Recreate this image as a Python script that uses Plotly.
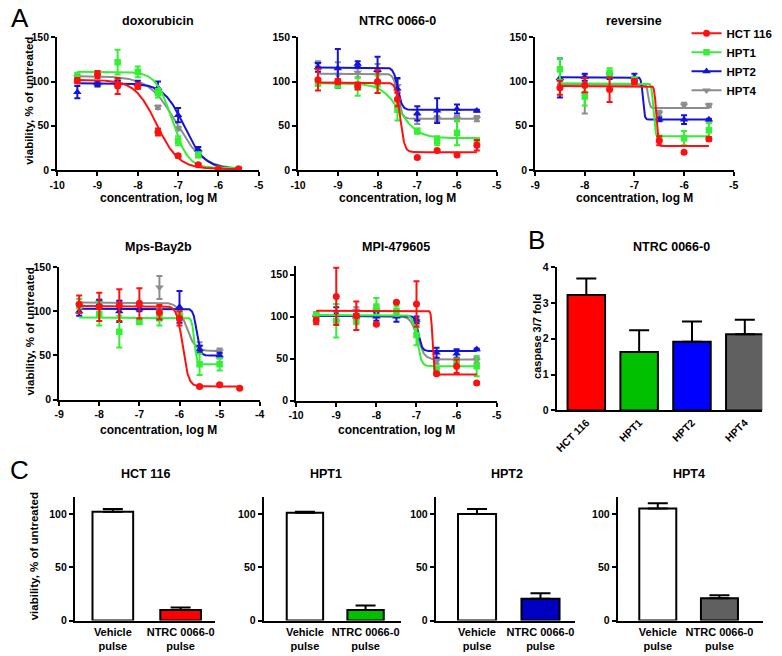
import numpy as np
import plotly.graph_objects as go

W, H = 782, 656
LINES = ["HCT 116", "HPT1", "HPT2", "HPT4"]
LINE_COLORS = {"HCT 116": "#ff1010", "HPT1": "#33f033", "HPT2": "#1414d8", "HPT4": "#8c8c8c"}
SYMBOLS = {"HCT 116": "circle", "HPT1": "square", "HPT2": "triangle-up", "HPT4": "triangle-down"}
MSIZE = {"HCT 116": 7, "HPT1": 6.5, "HPT2": 7.5, "HPT4": 7.5}

# ---------------- Panel A data ----------------
doxo_x = [-9.5, -9, -8.5, -8, -7.5, -7, -6.5, -6, -5.5]
doxo_mean = {"HCT 116": [101, 108, 95, 95, 43, 16, 6, 1, 1],
             "HPT1": [104, 109, 122, 111, 87, 33, 17, 1, 1],
             "HPT2": [88, 98, 98, 97, 93, 62, 23, 1, 1],
             "HPT4": [105, 97, 100, 95, 71, 47, 20, 1, 1]}
doxo_err = {"HCT 116": [3, 4, 9, 3, 4, 2, 1, 1, 1],
            "HPT1": [6, 3, 14, 6, 5, 5, 3, 1, 1],
            "HPT2": [7, 3, 3, 4, 7, 8, 3, 1, 1],
            "HPT4": [3, 3, 3, 3, 2, 2, 2, 1, 1]}
# top, bottom, logEC50, hill
doxo_fit = {"HCT 116": [102, 1, -7.53, 1.6], "HPT1": [111, 2, -7.15, 2.2],
            "HPT2": [98, 1, -6.85, 1.7], "HPT4": [106, 1, -7.05, 1.3]}

ntrc_x = [-9.5, -9, -8.5, -8, -7.5, -7, -6.5, -6, -5.5]
ntrc_mean = {"HCT 116": [102, 100, 95, 100, 80, 14, 22, 17, 28],
             "HPT1": [98, 97, 94, 97, 68, 44, 33, 42, 33],
             "HPT2": [116, 115, 120, 113, 92, 64, 67, 69, 67],
             "HPT4": [120, 108, 110, 110, 95, 57, 58, 58, 58]}
ntrc_err = {"HCT 116": [12, 3, 4, 13, 8, 1, 1, 1, 6],
            "HPT1": [3, 4, 10, 10, 12, 3, 5, 14, 3],
            "HPT2": [5, 22, 3, 15, 12, 8, 14, 5, 1],
            "HPT4": [3, 14, 5, 10, 8, 5, 3, 3, 3]}
ntrc_fit = {"HCT 116": [99, 20, -7.43, 8], "HPT1": [98, 36, -7.45, 1.85],
            "HPT2": [116, 68, -7.49, 8], "HPT4": [109, 58, -7.49, 8]}

rev_x = [-8.5, -8, -7.5, -7, -6.5, -6, -5.5]
rev_mean = {"HCT 116": [93, 96, 91, 100, 33, 20, 35],
            "HPT1": [114, 83, 110, 102, 36, 36, 45],
            "HPT2": [104, 105, 106, 105, 57, 57, 57],
            "HPT4": [100, 86, 107, 100, 64, 73, 73]}
rev_err = {"HCT 116": [8, 8, 14, 3, 5, 1, 2],
           "HPT1": [12, 10, 5, 3, 3, 8, 8],
           "HPT2": [22, 4, 3, 4, 2, 5, 1],
           "HPT4": [3, 22, 3, 3, 3, 3, 2]}
rev_fit = {"HCT 116": [95, 27, -6.56, 25], "HPT1": [98, 38, -6.62, 25],
           "HPT2": [105, 57, -6.83, 25], "HPT4": [97, 70, -6.72, 25]}

mps_x = {"HCT 116": [-8.5, -8, -7.5, -7, -6.5, -6, -5.5, -5, -4.5],
         "HPT1": [-8.5, -8, -7.5, -7, -6.5, -6, -5.5, -5],
         "HPT2": [-8.5, -8, -7.5, -7, -6.5, -6, -5.5, -5],
         "HPT4": [-8.5, -8, -7.5, -7, -6.5, -6, -5.5, -5]}
mps_mean = {"HCT 116": [108, 105, 107, 109, 99, 92, 15, 17, 13],
            "HPT1": [106, 97, 77, 88, 93, 95, 40, 40],
            "HPT2": [100, 108, 100, 103, 93, 105, 57, 50],
            "HPT4": [107, 110, 108, 105, 127, 95, 60, 55]}
mps_err = {"HCT 116": [10, 16, 18, 17, 8, 8, 1, 1, 1],
           "HPT1": [8, 13, 18, 2, 9, 5, 12, 7],
           "HPT2": [5, 5, 12, 3, 3, 18, 4, 3],
           "HPT4": [3, 3, 4, 3, 13, 5, 5, 3]}
mps_fit = {"HCT 116": [106, 15, -5.92, 6], "HPT1": [93, 40, -5.63, 14],
           "HPT2": [103, 50, -5.57, 10], "HPT4": [110, 55, -5.83, 4]}

mpi_x = [-9.5, -9, -8.5, -8, -7.5, -7, -6.5, -6, -5.5]
mpi_mean = {"HCT 116": [95, 124, 101, 91, 117, 115, 32, 41, 21],
            "HPT1": [102, 95, 95, 112, 107, 78, 36, 47, 41],
            "HPT2": [102, 103, 100, 100, 100, 96, 57, 56, 61],
            "HPT4": [100, 105, 107, 107, 105, 95, 47, 47, 48]}
mpi_err = {"HCT 116": [4, 34, 17, 1, 1, 27, 1, 8, 1],
           "HPT1": [3, 20, 4, 10, 6, 12, 3, 3, 12],
           "HPT2": [3, 8, 3, 5, 6, 4, 6, 5, 1],
           "HPT4": [3, 10, 4, 3, 3, 3, 3, 3, 3]}
mpi_fit = {"HCT 116": [107, 31, -6.6, 25], "HPT1": [102, 41, -6.99, 8],
           "HPT2": [101, 59, -6.95, 10], "HPT4": [101, 49, -6.98, 5]}

# ---------------- Panel B data ----------------
b_categories = ["HCT 116", "HPT1", "HPT2", "HPT4"]
b_values = [3.22, 1.63, 1.92, 2.13]
b_errors = [0.46, 0.61, 0.56, 0.40]
b_colors = ["#ff0000", "#00c000", "#0000ff", "#606060"]

# ---------------- Panel C data ----------------
c_categories = ["Vehicle<br>pulse", "NTRC 0066-0<br>pulse"]
c_titles = ["HCT 116", "HPT1", "HPT2", "HPT4"]
c_vehicle = [102, 101, 100, 105]
c_vehicle_err = [2.5, 1, 4.5, 5]
c_ntrc = [10, 10, 20.5, 21]
c_ntrc_err = [2.2, 4, 5.2, 2.7]
c_colors = ["#ff0000", "#00c000", "#0000c0", "#606060"]

FONT = "Liberation Sans, Arial, sans-serif"


def fx(px):
    return px / W


def fy(py):
    return 1 - py / H


def curve(p, x0, x1):
    top, bottom, ec, h = p
    xs = np.linspace(x0, x1, 600)
    return xs, bottom + (top - bottom) / (1 + 10 ** ((xs - ec) * h))


fig = go.Figure()
layout = {}


def add_axes(i, xpx, ypx, xr, yr, xkw=None, ykw=None):
    sfx = "" if i == 1 else str(i)
    base = dict(showline=True, linecolor="black", linewidth=2, ticks="outside",
                ticklen=4, tickwidth=2, tickcolor="black", showgrid=False,
                zeroline=False, fixedrange=True,
                tickfont=dict(family=FONT, size=10.5, color="black", weight="bold"))
    xa = dict(base, domain=[fx(xpx[0]), fx(xpx[1])], range=xr, anchor="y" + sfx)
    ya = dict(base, domain=[fy(ypx[1]), fy(ypx[0])], range=yr, anchor="x" + sfx)
    if xkw:
        xa.update(xkw)
    if ykw:
        ya.update(ykw)
    layout["xaxis" + sfx] = xa
    layout["yaxis" + sfx] = ya
    return "x" + sfx, "y" + sfx


def int_ticks(a, b):
    vals = list(range(a, b + 1))
    return dict(tickmode="array", tickvals=vals, ticktext=[str(v) for v in vals])


def dose_panel(i, xpx, ypx, xr, yr, xs, means, errs, fits, cx0, cx1, yticks):
    xa, ya = add_axes(i, xpx, ypx, xr, yr, int_ticks(xr[0], xr[1]),
                      dict(tickmode="array", tickvals=yticks))
    for name in ["HPT4", "HPT2", "HPT1", "HCT 116"]:
        col = LINE_COLORS[name]
        xx = xs[name] if isinstance(xs, dict) else xs
        x0 = cx0[name] if isinstance(cx0, dict) else cx0
        x1 = cx1[name] if isinstance(cx1, dict) else cx1
        cxs, cys = curve(fits[name], x0, x1)
        fig.add_trace(go.Scatter(x=cxs, y=cys, mode="lines", line=dict(color=col, width=2),
                                 xaxis=xa, yaxis=ya, showlegend=False, hoverinfo="skip"))
        fig.add_trace(go.Scatter(x=xx, y=means[name], mode="markers",
                                 marker=dict(symbol=SYMBOLS[name], size=MSIZE[name], color=col),
                                 error_y=dict(type="data", array=errs[name], color=col,
                                              thickness=2, width=3),
                                 xaxis=xa, yaxis=ya, showlegend=False))


dose_panel(1, (50, 255), (32, 167), [-10, -5], [0, 150], doxo_x, doxo_mean, doxo_err,
           doxo_fit, -9.5, -5.5, [0, 50, 100, 150])
dose_panel(2, (295, 497), (32, 167), [-10, -5], [0, 150], ntrc_x, ntrc_mean, ntrc_err,
           ntrc_fit, -9.5, -5.5, [0, 50, 100, 150])
dose_panel(3, (536, 738), (32, 167), [-9, -5], [0, 150], rev_x, rev_mean, rev_err,
           rev_fit, -8.5, -5.5, [0, 50, 100, 150])
dose_panel(4, (52, 256), (266, 401), [-9, -4], [0, 150], mps_x, mps_mean, mps_err,
           mps_fit, -8.5, {"HCT 116": -4.5, "HPT1": -5, "HPT2": -5, "HPT4": -5},
           [0, 50, 100, 150])
dose_panel(5, (293, 497), (265, 402), [-10, -5], [0, 160], mpi_x, mpi_mean, mpi_err,
           mpi_fit, -9.5, -5.5, [0, 50, 100, 150])

# legend entries
for name in LINES:
    fig.add_trace(go.Scatter(x=[None], y=[None], mode="lines+markers", name=name,
                             line=dict(color=LINE_COLORS[name], width=2),
                             marker=dict(symbol=SYMBOLS[name], size=MSIZE[name],
                                         color=LINE_COLORS[name]),
                             xaxis="x3", yaxis="y3"))

# Panel B
xa, ya = add_axes(6, (558, 767), (266, 412), [-0.56, 3.33], [0, 4],
                  dict(tickmode="array", tickvals=[0, 1, 2, 3], ticktext=b_categories,
                       tickangle=-45, ticks=""),
                  dict(tickmode="array", tickvals=[0, 1, 2, 3, 4]))
fig.add_trace(go.Bar(x=[0, 1, 2, 3], y=b_values, width=0.71,
                     marker=dict(color=b_colors, line=dict(color="black", width=2)),
                     error_y=dict(type="data", array=b_errors, arrayminus=[0] * 4,
                                  symmetric=False, color="black", thickness=2, width=10),
                     xaxis=xa, yaxis=ya, showlegend=False))

# Panel C
c_x = [(68, 210), (260, 400), (435, 577), (620, 768)]
c_ranges = [[-0.56, 1.5], [-0.68, 1.59], [-0.65, 1.55], [-0.65, 1.71]]
c_title_x = [140, 323, 507, 693]
for k in range(4):
    xa, ya = add_axes(7 + k, c_x[k], (500, 626), c_ranges[k], [0, 116],
                      dict(tickmode="array", tickvals=[0, 1], ticktext=c_categories, ticks="",
                           tickfont=dict(family=FONT, size=11, color="black", weight="bold")),
                      dict(tickmode="array", tickvals=[0, 50, 100]))
    fig.add_trace(go.Bar(x=[0, 1], y=[c_vehicle[k], c_ntrc[k]], width=0.6,
                         marker=dict(color=["white", c_colors[k]],
                                     line=dict(color="black", width=2)),
                         error_y=dict(type="data", array=[c_vehicle_err[k], c_ntrc_err[k]],
                                      arrayminus=[0, 0], symmetric=False, color="black",
                                      thickness=2, width=10),
                         xaxis=xa, yaxis=ya, showlegend=False))

# annotations
ann = []


def text(x, y, s, size=12.5, weight="bold", angle=0):
    ann.append(dict(x=fx(x), y=fy(y), xref="paper", yref="paper", text=s, showarrow=False,
                    textangle=angle, xanchor="center", yanchor="middle",
                    font=dict(family=FONT, size=size, color="black", weight=weight)))


for x, y, s in [(153, 15, "doxorubicin"), (396, 15, "NTRC 0066-0"), (637, 15, "reversine"),
                (153, 245, "Mps-Bay2b"), (395, 245, "MPI-479605"), (675, 245, "NTRC 0066-0")]:
    text(x, y, s)
for x, y, s in zip(c_title_x, [477] * 4, c_titles):
    text(x, y, s)
for x, y in [(153, 196), (396, 196), (637, 196), (153, 432), (395, 432)]:
    text(x, y, "concentration, log M", size=12)
text(22, 97, "viability, % of untreated", size=11.5, angle=-90)
text(22, 332, "viability, % of untreated", size=11.5, angle=-90)
text(26, 561, "viability, % of untreated", size=11.5, angle=-90)
text(538, 337, "caspase 3/7 fold", size=11, angle=-90)
text(12, 12, "A", size=26, weight="normal")
text(537, 238, "B", size=26, weight="normal")
text(12, 473, "C", size=26, weight="normal")

layout.update(dict(
    width=W, height=H, margin=dict(l=0, r=0, t=0, b=0),
    paper_bgcolor="white", plot_bgcolor="white",
    font=dict(family=FONT, size=10, color="black", weight="bold"),
    annotations=ann,
    legend=dict(x=fx(690), y=fy(13), xanchor="left", yanchor="top",
                bgcolor="rgba(0,0,0,0)", tracegroupgap=0,
                font=dict(family=FONT, size=11.5, color="black", weight="bold")),
    showlegend=True,
))
fig.update_layout(**layout)
fig.write_html("out.html", config={"displayModeBar": False},
               post_script="document.body.style.margin='0';document.body.style.overflow='hidden';")
